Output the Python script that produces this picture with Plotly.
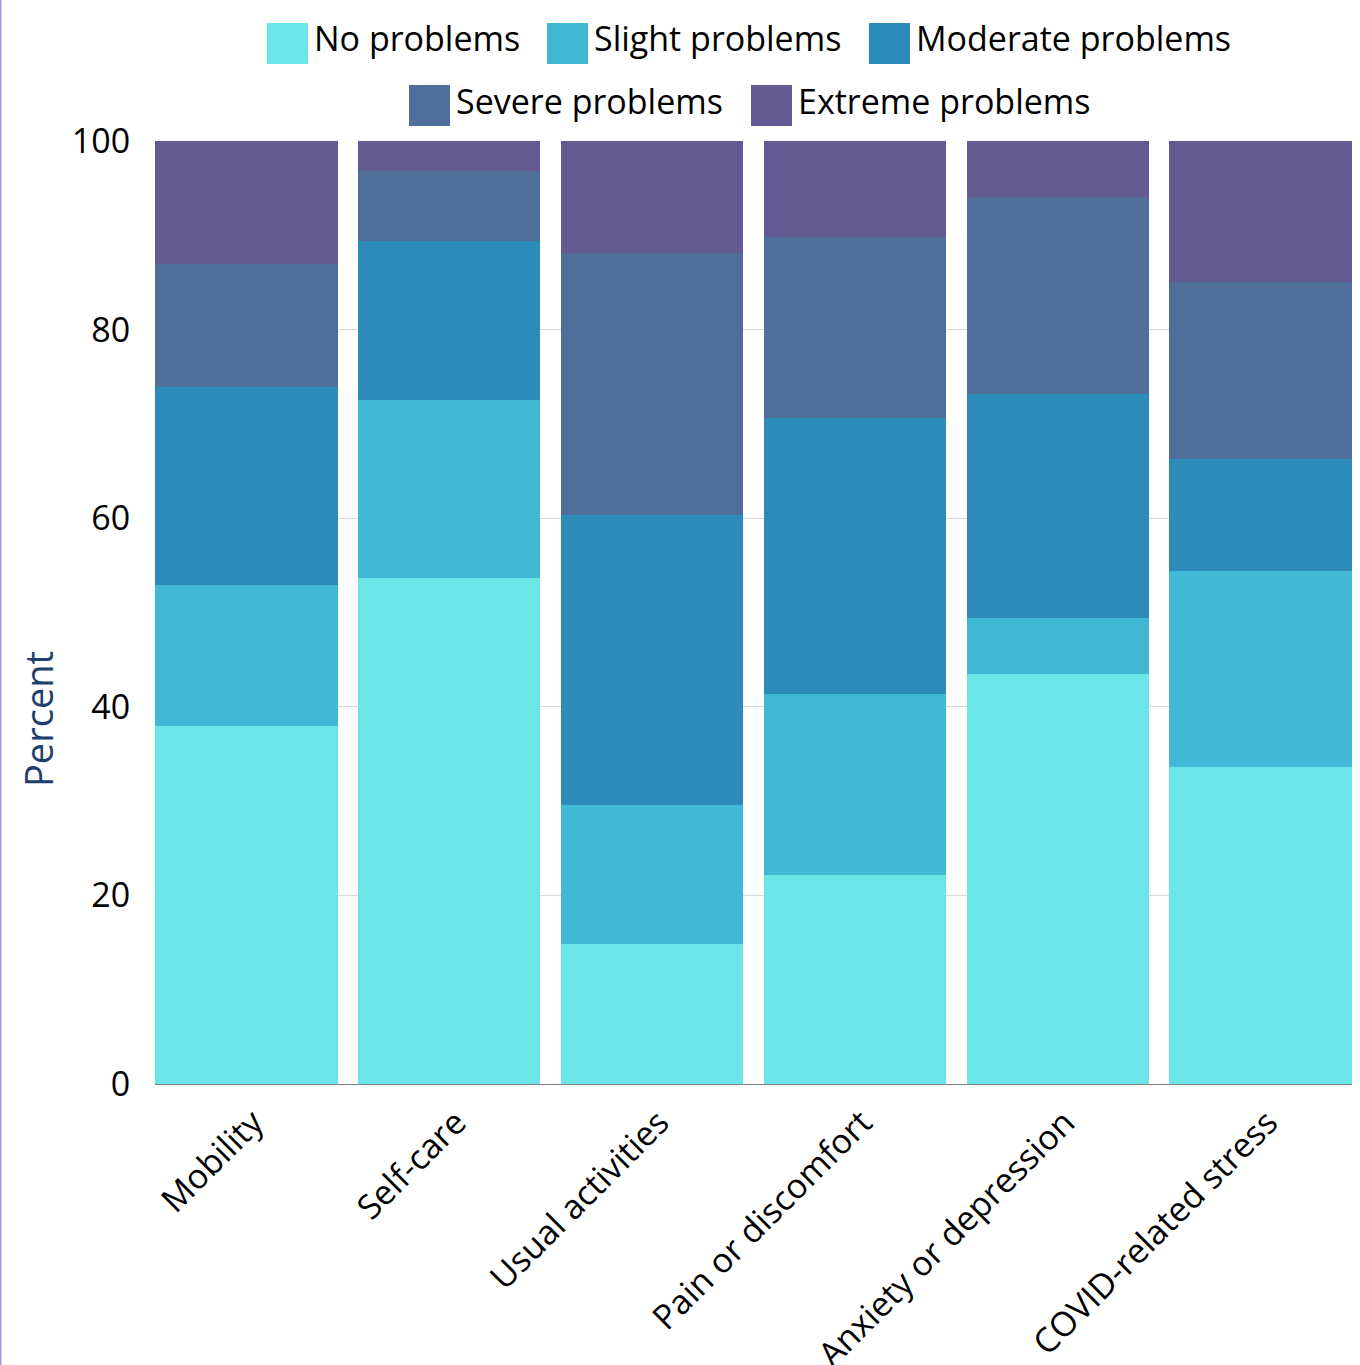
import plotly.graph_objects as go

categories = ["Mobility", "Self-care", "Usual activities", "Pain or discomfort",
              "Anxiety or depression", "COVID-related stress"]
series_names = ["No problems", "Slight problems", "Moderate problems",
                "Severe problems", "Extreme problems"]
no_problems = [38.0, 53.7, 14.8, 22.2, 43.5, 33.6]
slight_problems = [14.9, 18.8, 14.8, 19.2, 5.9, 20.8]
moderate_problems = [21.0, 16.9, 30.7, 29.2, 23.8, 11.9]
severe_problems = [13.1, 7.4, 27.8, 19.2, 20.9, 18.7]
extreme_problems = [13.0, 3.2, 11.9, 10.2, 5.9, 15.0]
colors = ["#6ce5e8", "#41b8d5", "#2d8bba", "#506e9a", "#635a92"]
y_ticks = [0, 20, 40, 60, 80, 100]

values = [no_problems, slight_problems, moderate_problems, severe_problems, extreme_problems]

W, H = 1360, 1365
ML, MR, MT, MB = 155, 8, 141, 281
PW, PH = W - ML - MR, H - MT - MB
FONT = "Open Sans"

fig = go.Figure()
for name, vals, col in zip(series_names, values, colors):
    fig.add_trace(go.Bar(x=categories, y=vals, name=name, marker=dict(color=col, line=dict(width=0)),
                         showlegend=False))

def px2x(px):
    return (px - ML) / PW

def py2y(py):
    return (H - MB - py) / PH

# manual legend (rows centred like the reference)
legend_rows = [
    [(0, 267), (1, 547), (2, 869)],
    [(3, 409), (4, 751)],
]
row_y = [23, 85]
shapes = []
annotations = []
SW = 41
for r, row in enumerate(legend_rows):
    top = row_y[r]
    for idx, x0 in row:
        shapes.append(dict(type="rect", xref="paper", yref="paper",
                           x0=px2x(x0), x1=px2x(x0 + SW), y0=py2y(top + SW), y1=py2y(top),
                           fillcolor=colors[idx], line=dict(width=0)))
        annotations.append(dict(xref="paper", yref="paper", x=px2x(x0 + SW + 4), y=py2y(top + SW / 2 - 5),
                                xanchor="left", yanchor="middle", text=series_names[idx],
                                showarrow=False, font=dict(family=FONT, size=34, color="#000000")))

# y-axis title
annotations.append(dict(xref="paper", yref="paper", x=px2x(38), y=py2y(719), xanchor="center",
                        yanchor="middle", text="Percent", textangle=-90, showarrow=False,
                        font=dict(family=FONT, size=38, color="#1c3f6e")))

# left page border
shapes.append(dict(type="line", xref="paper", yref="paper", x0=px2x(0.5), x1=px2x(0.5),
                   y0=py2y(H), y1=py2y(0), line=dict(color="#9c9ce0", width=2)))

fig.update_layout(
    width=W, height=H,
    margin=dict(l=ML, r=MR, t=MT, b=MB, pad=0, autoexpand=False),
    barmode="stack", bargap=0.1,
    plot_bgcolor="white", paper_bgcolor="white",
    font=dict(family=FONT, size=34, color="#000000"),
    shapes=shapes, annotations=annotations,
    showlegend=False,
)
fig.update_xaxes(range=[-0.45, 5.45], tickangle=-45, showline=True, linecolor="#808080", linewidth=1,
                 showgrid=False, ticks="outside", ticklen=4, tickcolor="rgba(0,0,0,0)", automargin=False,
                 ticklabelshift=7,
                 tickfont=dict(family=FONT, size=34, color="#000000"))
fig.update_yaxes(range=[0, 100], tickvals=y_ticks, showgrid=True, gridcolor="#d9d9d9", gridwidth=1,
                 zeroline=False, ticks="outside", ticklen=17, tickcolor="rgba(0,0,0,0)", automargin=False,
                 tickfont=dict(family=FONT, size=34, color="#000000"))

fig.write_html("out.html")
